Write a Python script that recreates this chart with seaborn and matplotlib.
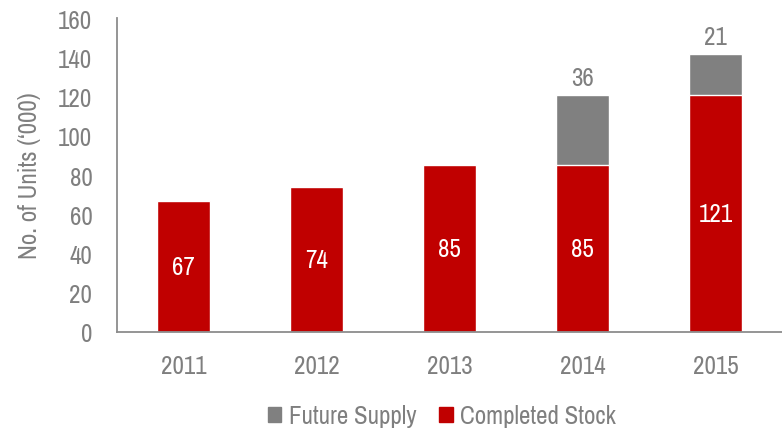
import pandas as pd
import matplotlib.pyplot as plt
import seaborn as sns
from matplotlib.patches import Patch

# Данные
years = ["2011", "2012", "2013", "2014", "2015"]
completed_stock = [67, 74, 85, 85, 121]
future_supply = [0, 0, 0, 36, 21]

RED = "#C00000"
GREY = "#808080"
TEXT = "#7F7F7F"

sns.set_theme(style="white")
# узкий шрифт (похож на Arial Narrow), запасные варианты
plt.rcParams["font.family"] = ["Archivo Narrow", "Roboto Condensed", "Liberation Sans", "DejaVu Sans"]

df = pd.DataFrame({"year": years, "completed": completed_stock, "future": future_supply})
df["total"] = df["completed"] + df["future"]

fig, ax = plt.subplots(figsize=(7.82, 4.31), dpi=100)

# серые (итог) снизу, красные поверх
sns.barplot(data=df, x="year", y="total", color=GREY, width=0.4, saturation=1, ax=ax)
sns.barplot(data=df, x="year", y="completed", color=RED, width=0.4, saturation=1, ax=ax)

# подписи
for i, row in df.iterrows():
    ax.text(i, row["completed"] / 2, str(row["completed"]), ha="center", va="center",
            color="white", fontsize=18)
    if row["future"] > 0:
        ax.text(i, row["total"] + 3, str(row["future"]), ha="center", va="bottom",
                color=TEXT, fontsize=18)

ax.set_ylim(0, 160)
ax.set_yticks(range(0, 161, 20))
ax.set_xlim(-0.5, 4.5)
ax.set_xlabel("")
ax.set_ylabel("No. of Units (\u2018000)", color=TEXT, fontsize=18, labelpad=12)
ax.tick_params(axis="both", colors=TEXT, labelsize=18, length=0)
ax.tick_params(axis="y", pad=18)
ax.tick_params(axis="x", pad=16)
sns.despine(ax=ax, top=True, right=True)
for s in ["left", "bottom"]:
    ax.spines[s].set_color("#8C8C8C")
    ax.spines[s].set_linewidth(1.3)

handles = [Patch(color=GREY, label="Future Supply"), Patch(color=RED, label="Completed Stock")]
fig.legend(handles=handles, loc="lower center", ncol=2, frameon=False, fontsize=18,
           labelcolor=TEXT, handlelength=0.55, handleheight=0.55, handletextpad=0.3,
           columnspacing=0.9, bbox_to_anchor=(0.565, -0.045))

fig.subplots_adjust(left=0.15, right=1.0, top=0.955, bottom=0.228)
fig.savefig("out.png", dpi=100)
